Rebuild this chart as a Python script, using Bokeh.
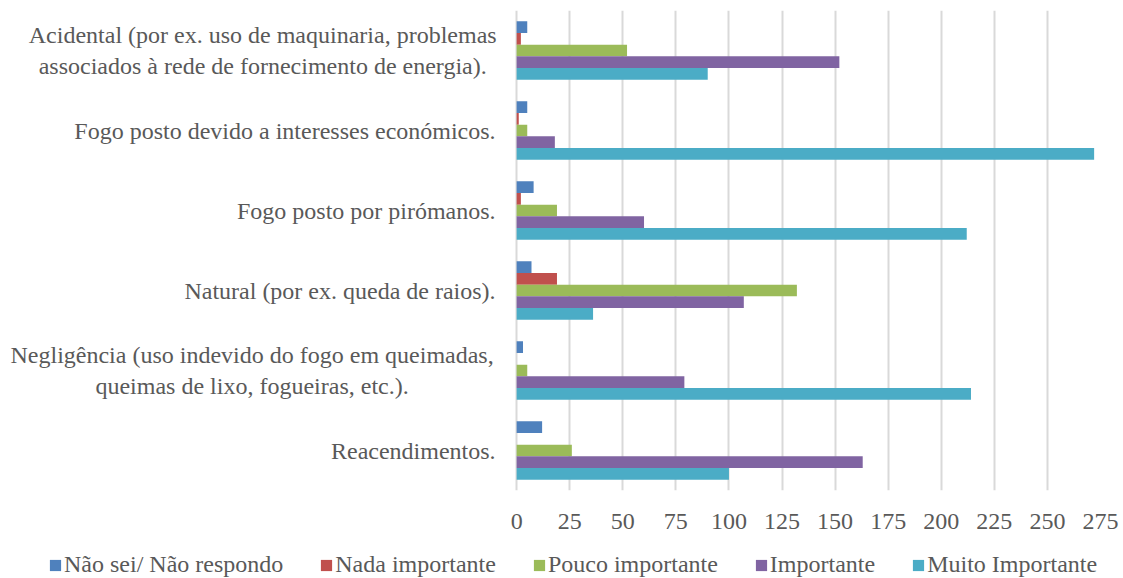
from bokeh.plotting import figure
from bokeh.models import ColumnDataSource, FixedTicker, Range1d, Legend, LegendItem
from bokeh.core.properties import value
from bokeh.transform import dodge
from bokeh.layouts import column
from bokeh.embed import file_html
from bokeh.resources import INLINE

categories = [
    "Acidental (por ex. uso de maquinaria, problemas\nassociados à rede de fornecimento de energia).",
    "Fogo posto devido a interesses económicos.",
    "Fogo posto por pirómanos.",
    "Natural (por ex. queda de raios).",
    "Negligência (uso indevido do fogo em queimadas,\nqueimas de lixo, fogueiras, etc.).",
    "Reacendimentos.",
]
series_names = ["Não sei/ Não respondo", "Nada importante", "Pouco importante", "Importante", "Muito Importante"]
nao_sei = [5, 5, 8, 7, 3, 12]
nada_importante = [2, 1, 2, 19, 0, 0]
pouco_importante = [52, 5, 19, 132, 5, 26]
importante = [152, 18, 60, 107, 79, 163]
muito_importante = [90, 272, 212, 36, 214, 100]
x_ticks = list(range(0, 276, 25))

colors = ["#4F81BD", "#C0504D", "#9BBB59", "#8064A2", "#4BACC6"]
series_values = [nao_sei, nada_importante, pouco_importante, importante, muito_importante]
keys = ["s0", "s1", "s2", "s3", "s4"]

data = {"cat": categories}
for k, v in zip(keys, series_values):
    data[k] = v
source = ColumnDataSource(data)

FONT = "Liberation Serif"
TXT = "#595959"
FS = "24px"
W = 1120

# main chart: the frame also covers the category-label area on the left (negative x side)
LABEL_SPACE = 243.1
p = figure(
    y_range=list(reversed(categories)),
    x_range=Range1d(-LABEL_SPACE, 275),
    width=W, height=540,
    output_backend="svg", toolbar_location=None,
    min_border_left=0, min_border_right=20, min_border_top=10, min_border_bottom=50,
)
p.outline_line_color = None

bh = 0.146
offsets = [2 * bh, bh, 0, -bh, -2 * bh]
for k, off, c in zip(keys, offsets, colors):
    p.hbar(y=dodge("cat", off, range=p.y_range), right=k, left=0, height=bh,
           source=source, fill_color=c, line_color=None)

# category labels
single = [c for c in categories if "\n" not in c]
multi = [c for c in categories if "\n" in c]
p.text(x=-9.9, y=single, text=single, text_align="right", text_baseline="middle",
       text_font=value(FONT), text_font_size=FS, text_color=TXT)
multi_x = [-119.6, -124.6]
p.text(x=multi_x, y=multi, text=multi, text_align="center", text_baseline="middle",
       text_font=value(FONT), text_font_size=FS, text_color=TXT, text_line_height=1.2)

p.yaxis.visible = False

p.xaxis.ticker = FixedTicker(ticks=x_ticks)
p.xaxis.axis_line_color = None
p.xaxis.major_tick_line_color = None
p.xaxis.minor_tick_line_color = None
p.xaxis.major_label_standoff = 17
p.xaxis.major_label_text_font = FONT
p.xaxis.major_label_text_font_size = FS
p.xaxis.major_label_text_color = TXT

p.ygrid.grid_line_color = None
p.xgrid.ticker = FixedTicker(ticks=x_ticks)
p.xgrid.grid_line_color = "#d9d9d9"
p.xgrid.grid_line_width = 2

# legend strip below the chart: same series as zero-height bars outside the view,
# so only their legend swatches show
lg = figure(width=W, height=38, output_backend="svg", toolbar_location=None,
            x_range=Range1d(-2, -1), y_range=Range1d(0, 1),
            x_axis_type=None, y_axis_type=None, min_border=0)
lg.outline_line_color = None
lg.grid.visible = False
legend_renderers = [lg.hbar(y=-1, left=0, right=k, height=0, source=source,
                            fill_color=c, line_color=None)
                    for k, c in zip(keys, colors)]
legend = Legend(
    items=[LegendItem(label=s, renderers=[r]) for s, r in zip(series_names, legend_renderers)],
    orientation="horizontal",
    location=(48, 0),
    border_line_color=None,
    background_fill_alpha=0,
    label_text_font=FONT,
    label_text_font_size=FS,
    label_text_color=TXT,
    glyph_width=14, glyph_height=14,
    label_standoff=2,
    spacing=36,
    padding=0, margin=0,
)
lg.add_layout(legend)

open("out.html", "w").write(file_html(column(p, lg, spacing=0), INLINE))
